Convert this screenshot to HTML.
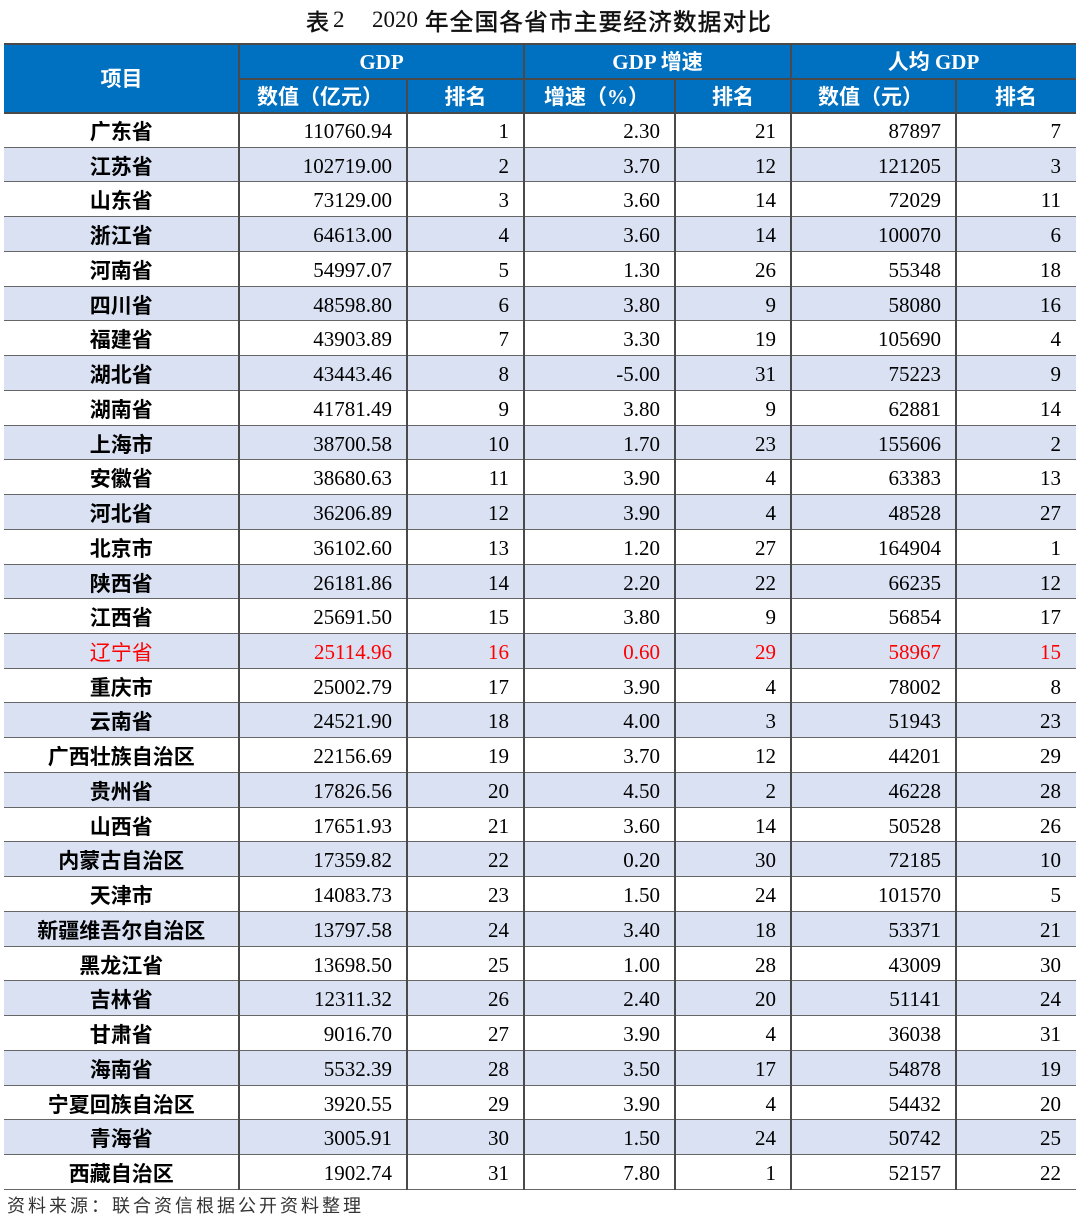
<!DOCTYPE html>
<html><head><meta charset="utf-8">
<style>
*{margin:0;padding:0;box-sizing:border-box}
body{width:1080px;height:1221px;background:#fff;position:relative;overflow:hidden;font-family:"Liberation Serif","Noto Sans CJK SC",serif;}
.t{position:absolute;top:0;height:40px;line-height:40px;color:#111;font-size:23px;white-space:nowrap}
.cjk{font-family:"Noto Sans CJK SC",sans-serif}
.ser{font-family:"Liberation Serif",serif}
.hdr{position:absolute;left:4px;top:44px;width:1072px;height:69px;background:#0070C0}
.h{position:absolute;color:#fff;font-weight:bold;font-size:21px;text-align:center;font-family:"Liberation Serif","Noto Sans CJK SC",serif;white-space:nowrap}
.vl{position:absolute;width:2px;background:#4a4a4a}
.hl{position:absolute;height:2px;background:#5a5a5a}
#data{position:absolute;left:4px;top:113px;width:1072px}
.r{display:flex;height:34.742px;border-bottom:1.6px solid #666;font-size:21px;color:#000}
.r.b{background:#D9E1F2}
.r.red{color:#FF0000}
.r div{line-height:37px;height:33px;white-space:nowrap}
.c0{width:234.5px;text-align:center;font-family:"Noto Sans CJK SC",sans-serif;font-weight:bold;font-size:21px}
.n{text-align:right;padding-right:15px;font-family:"Liberation Serif",serif}
.c1{width:168.5px}.c2{width:117px}.c3{width:151px}.c4{width:116px}.c5{width:165px}.c6{width:120px}
.foot{position:absolute;left:7px;top:1192px;font-size:18px;line-height:26px;letter-spacing:3px;color:#333;font-family:"Noto Sans CJK SC",sans-serif;white-space:nowrap}
.st{-webkit-text-stroke:0.5px #111}
</style></head><body>

<span class="t cjk st" style="left:306px;font-size:23px">表</span>
<span class="t ser" style="left:333px;font-size:23px">2</span>
<span class="t ser" style="left:372px;font-size:23px">2020</span>
<span class="t cjk st" style="left:425px;font-size:23.5px;letter-spacing:1.3px">年全国各省市主要经济数据对比</span>

<div class="hdr"></div>
<div class="h" style="left:4px;top:45px;width:235px;line-height:69px;height:69px">项目</div>
<div class="h" style="left:239px;top:45px;width:285px;line-height:34px;height:34px">GDP</div>
<div class="h" style="left:524px;top:45px;width:267px;line-height:34px;height:34px">GDP 增速</div>
<div class="h" style="left:791px;top:45px;width:285px;line-height:34px;height:34px">人均 GDP</div>
<div class="h" style="left:239px;top:80px;width:168px;line-height:35px;height:35px;padding-right:6px">数值（亿元）</div>
<div class="h" style="left:407px;top:80px;width:117px;line-height:35px;height:35px">排名</div>
<div class="h" style="left:524px;top:80px;width:151px;line-height:35px;height:35px;padding-right:6px">增速（%）</div>
<div class="h" style="left:675px;top:80px;width:116px;line-height:35px;height:35px">排名</div>
<div class="h" style="left:791px;top:80px;width:165px;line-height:35px;height:35px;padding-right:6px">数值（元）</div>
<div class="h" style="left:956px;top:80px;width:120px;line-height:35px;height:35px">排名</div>

<div id="data">
<div class="r"><div class="c0">广东省</div><div class="n c1">110760.94</div><div class="n c2">1</div><div class="n c3">2.30</div><div class="n c4">21</div><div class="n c5">87897</div><div class="n c6">7</div></div>
<div class="r b"><div class="c0">江苏省</div><div class="n c1">102719.00</div><div class="n c2">2</div><div class="n c3">3.70</div><div class="n c4">12</div><div class="n c5">121205</div><div class="n c6">3</div></div>
<div class="r"><div class="c0">山东省</div><div class="n c1">73129.00</div><div class="n c2">3</div><div class="n c3">3.60</div><div class="n c4">14</div><div class="n c5">72029</div><div class="n c6">11</div></div>
<div class="r b"><div class="c0">浙江省</div><div class="n c1">64613.00</div><div class="n c2">4</div><div class="n c3">3.60</div><div class="n c4">14</div><div class="n c5">100070</div><div class="n c6">6</div></div>
<div class="r"><div class="c0">河南省</div><div class="n c1">54997.07</div><div class="n c2">5</div><div class="n c3">1.30</div><div class="n c4">26</div><div class="n c5">55348</div><div class="n c6">18</div></div>
<div class="r b"><div class="c0">四川省</div><div class="n c1">48598.80</div><div class="n c2">6</div><div class="n c3">3.80</div><div class="n c4">9</div><div class="n c5">58080</div><div class="n c6">16</div></div>
<div class="r"><div class="c0">福建省</div><div class="n c1">43903.89</div><div class="n c2">7</div><div class="n c3">3.30</div><div class="n c4">19</div><div class="n c5">105690</div><div class="n c6">4</div></div>
<div class="r b"><div class="c0">湖北省</div><div class="n c1">43443.46</div><div class="n c2">8</div><div class="n c3">-5.00</div><div class="n c4">31</div><div class="n c5">75223</div><div class="n c6">9</div></div>
<div class="r"><div class="c0">湖南省</div><div class="n c1">41781.49</div><div class="n c2">9</div><div class="n c3">3.80</div><div class="n c4">9</div><div class="n c5">62881</div><div class="n c6">14</div></div>
<div class="r b"><div class="c0">上海市</div><div class="n c1">38700.58</div><div class="n c2">10</div><div class="n c3">1.70</div><div class="n c4">23</div><div class="n c5">155606</div><div class="n c6">2</div></div>
<div class="r"><div class="c0">安徽省</div><div class="n c1">38680.63</div><div class="n c2">11</div><div class="n c3">3.90</div><div class="n c4">4</div><div class="n c5">63383</div><div class="n c6">13</div></div>
<div class="r b"><div class="c0">河北省</div><div class="n c1">36206.89</div><div class="n c2">12</div><div class="n c3">3.90</div><div class="n c4">4</div><div class="n c5">48528</div><div class="n c6">27</div></div>
<div class="r"><div class="c0">北京市</div><div class="n c1">36102.60</div><div class="n c2">13</div><div class="n c3">1.20</div><div class="n c4">27</div><div class="n c5">164904</div><div class="n c6">1</div></div>
<div class="r b"><div class="c0">陕西省</div><div class="n c1">26181.86</div><div class="n c2">14</div><div class="n c3">2.20</div><div class="n c4">22</div><div class="n c5">66235</div><div class="n c6">12</div></div>
<div class="r"><div class="c0">江西省</div><div class="n c1">25691.50</div><div class="n c2">15</div><div class="n c3">3.80</div><div class="n c4">9</div><div class="n c5">56854</div><div class="n c6">17</div></div>
<div class="r b red"><div class="c0" style="font-weight:normal">辽宁省</div><div class="n c1">25114.96</div><div class="n c2">16</div><div class="n c3">0.60</div><div class="n c4">29</div><div class="n c5">58967</div><div class="n c6">15</div></div>
<div class="r"><div class="c0">重庆市</div><div class="n c1">25002.79</div><div class="n c2">17</div><div class="n c3">3.90</div><div class="n c4">4</div><div class="n c5">78002</div><div class="n c6">8</div></div>
<div class="r b"><div class="c0">云南省</div><div class="n c1">24521.90</div><div class="n c2">18</div><div class="n c3">4.00</div><div class="n c4">3</div><div class="n c5">51943</div><div class="n c6">23</div></div>
<div class="r"><div class="c0">广西壮族自治区</div><div class="n c1">22156.69</div><div class="n c2">19</div><div class="n c3">3.70</div><div class="n c4">12</div><div class="n c5">44201</div><div class="n c6">29</div></div>
<div class="r b"><div class="c0">贵州省</div><div class="n c1">17826.56</div><div class="n c2">20</div><div class="n c3">4.50</div><div class="n c4">2</div><div class="n c5">46228</div><div class="n c6">28</div></div>
<div class="r"><div class="c0">山西省</div><div class="n c1">17651.93</div><div class="n c2">21</div><div class="n c3">3.60</div><div class="n c4">14</div><div class="n c5">50528</div><div class="n c6">26</div></div>
<div class="r b"><div class="c0">内蒙古自治区</div><div class="n c1">17359.82</div><div class="n c2">22</div><div class="n c3">0.20</div><div class="n c4">30</div><div class="n c5">72185</div><div class="n c6">10</div></div>
<div class="r"><div class="c0">天津市</div><div class="n c1">14083.73</div><div class="n c2">23</div><div class="n c3">1.50</div><div class="n c4">24</div><div class="n c5">101570</div><div class="n c6">5</div></div>
<div class="r b"><div class="c0">新疆维吾尔自治区</div><div class="n c1">13797.58</div><div class="n c2">24</div><div class="n c3">3.40</div><div class="n c4">18</div><div class="n c5">53371</div><div class="n c6">21</div></div>
<div class="r"><div class="c0">黑龙江省</div><div class="n c1">13698.50</div><div class="n c2">25</div><div class="n c3">1.00</div><div class="n c4">28</div><div class="n c5">43009</div><div class="n c6">30</div></div>
<div class="r b"><div class="c0">吉林省</div><div class="n c1">12311.32</div><div class="n c2">26</div><div class="n c3">2.40</div><div class="n c4">20</div><div class="n c5">51141</div><div class="n c6">24</div></div>
<div class="r"><div class="c0">甘肃省</div><div class="n c1">9016.70</div><div class="n c2">27</div><div class="n c3">3.90</div><div class="n c4">4</div><div class="n c5">36038</div><div class="n c6">31</div></div>
<div class="r b"><div class="c0">海南省</div><div class="n c1">5532.39</div><div class="n c2">28</div><div class="n c3">3.50</div><div class="n c4">17</div><div class="n c5">54878</div><div class="n c6">19</div></div>
<div class="r"><div class="c0">宁夏回族自治区</div><div class="n c1">3920.55</div><div class="n c2">29</div><div class="n c3">3.90</div><div class="n c4">4</div><div class="n c5">54432</div><div class="n c6">20</div></div>
<div class="r b"><div class="c0">青海省</div><div class="n c1">3005.91</div><div class="n c2">30</div><div class="n c3">1.50</div><div class="n c4">24</div><div class="n c5">50742</div><div class="n c6">25</div></div>
<div class="r"><div class="c0">西藏自治区</div><div class="n c1">1902.74</div><div class="n c2">31</div><div class="n c3">7.80</div><div class="n c4">1</div><div class="n c5">52157</div><div class="n c6">22</div></div>
</div>

<div class="hl" style="left:4px;top:43px;width:1072px;background:#4a4a4a"></div>
<div class="hl" style="left:239px;top:77.5px;width:837px;background:#4a4a4a"></div>
<div class="hl" style="left:4px;top:112px;width:1072px;background:#4a4a4a"></div>

<div class="vl" style="left:237.5px;top:44px;height:1146px"></div>
<div class="vl" style="left:523px;top:44px;height:1146px"></div>
<div class="vl" style="left:790px;top:44px;height:1146px"></div>
<div class="vl" style="left:406px;top:78px;height:1112px"></div>
<div class="vl" style="left:674px;top:78px;height:1112px"></div>
<div class="vl" style="left:955px;top:78px;height:1112px"></div>

<div class="foot">资料来源：联合资信根据公开资料整理</div>
</body></html>
